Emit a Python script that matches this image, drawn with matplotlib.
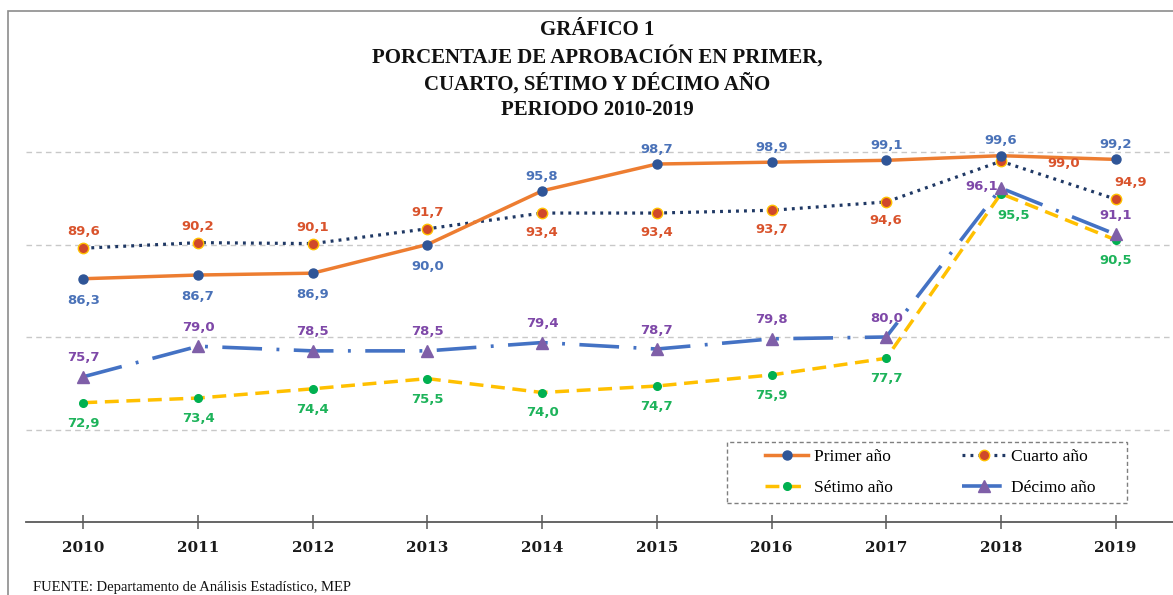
import matplotlib
matplotlib.use("Agg")
import matplotlib.pyplot as plt
from matplotlib.patches import Rectangle
from matplotlib.lines import Line2D

years = [2010, 2011, 2012, 2013, 2014, 2015, 2016, 2017, 2018, 2019]
primer = [86.3, 86.7, 86.9, 90.0, 95.8, 98.7, 98.9, 99.1, 99.6, 99.2]
cuarto = [89.6, 90.2, 90.1, 91.7, 93.4, 93.4, 93.7, 94.6, 99.0, 94.9]
setimo = [72.9, 73.4, 74.4, 75.5, 74.0, 74.7, 75.9, 77.7, 95.5, 90.5]
decimo = [75.7, 79.0, 78.5, 78.5, 79.4, 78.7, 79.8, 80.0, 96.1, 91.1]
series_names = ["Primer año", "Cuarto año", "Sétimo año", "Décimo año"]
title_lines = ["GRÁFICO 1", "PORCENTAJE DE APROBACIÓN EN PRIMER,",
               "CUARTO, SÉTIMO Y DÉCIMO AÑO", "PERIODO 2010-2019"]
source = "FUENTE: Departamento de Análisis Estadístico, MEP"

W, H = 1173, 595
fig = plt.figure(figsize=(W / 100, H / 100), dpi=100)
ax = fig.add_axes([26 / W, 1 - 522 / H, (1173 - 26) / W, (522 - 59.5) / H])
ax.set_xlim(2009.5, 2019.5)
ax.set_ylim(60, 110)

# frame around chart
fig.patches.append(Rectangle((8 / W, -0.1), 1.2, 1 - 11 / H + 0.1, transform=fig.transFigure,
                             fill=False, edgecolor="#8c8c8c", linewidth=1.2, zorder=0))

for g in [70, 80, 90, 100]:
    ax.axhline(g, color="#c8c8c8", lw=1, ls=(0, (4, 3)), zorder=0)

c_orange = "#ED7D31"
c_blue_m = "#2F5597"
c_navy = "#1F3864"
c_red = "#D0482A"
c_yellow = "#FFC000"
c_green = "#00B050"
c_blue = "#4472C4"
c_purple = "#7F5FA8"

st_setimo = dict(color=c_yellow, lw=2.5, ls=(0, (4, 2.2)), marker="o", ms=5.5,
                 mfc=c_green, mec=c_green)
st_decimo = dict(color=c_blue, lw=2.6, ls=(0, (11, 4, 0.8, 4)), marker="^", ms=8,
                 mfc=c_purple, mec=c_purple)
st_cuarto = dict(color=c_navy, lw=2.3, ls=(0, (0.9, 1.6)), marker="o", ms=7.5,
                 mfc=c_red, mec=c_yellow, mew=1.0)
st_primer = dict(color=c_orange, lw=2.5, marker="o", ms=6.5, mfc=c_blue_m, mec=c_blue_m)

ax.plot(years, setimo, zorder=3, **st_setimo)
ax.plot(years, decimo, zorder=4, **st_decimo)
ax.plot(years, cuarto, zorder=5, **st_cuarto)
ax.plot(years, primer, zorder=6, **st_primer)

lab_kw = dict(fontsize=9.5, fontweight="bold", family="DejaVu Sans", ha="center")
lc_primer = "#4A72B8"
lc_cuarto = "#D9532C"
lc_setimo = "#1DB35A"
lc_decimo = "#7E48A8"

def fmt(v):
    return f"{v:.1f}".replace(".", ",")

def lab(x, v, dx, dy, va, color):
    ax.annotate(fmt(v), (x, v), xytext=(dx, dy), textcoords="offset points",
                va=va, color=color, zorder=8, **lab_kw)

for i, (x, v) in enumerate(zip(years, primer)):
    if i < 4:
        lab(x, v, 0, -11, "top", lc_primer)
    else:
        lab(x, v, 0, 6, "bottom", lc_primer)

for i, (x, v) in enumerate(zip(years, cuarto)):
    if i < 4:
        lab(x, v, 0, 7, "bottom", lc_cuarto)
    elif i < 8:
        lab(x, v, 0, -9, "top", lc_cuarto)
    elif i == 8:
        lab(x, v, 45, -1.5, "center", lc_cuarto)
    else:
        lab(x, v, 11, 7, "bottom", lc_cuarto)

for i, (x, v) in enumerate(zip(years, setimo)):
    if i == 8:
        lab(x, v, 9, -11, "top", lc_setimo)
    else:
        lab(x, v, 0, -10, "top", lc_setimo)

for i, (x, v) in enumerate(zip(years, decimo)):
    if i < 8:
        lab(x, v, 0, 9, "bottom", lc_decimo)
    elif i == 8:
        lab(x, v, -14, 1, "center", lc_decimo)
    else:
        lab(x, v, 0, 9, "bottom", lc_decimo)

for s in ["top", "right", "left"]:
    ax.spines[s].set_visible(False)
ax.spines["bottom"].set_color("#595959")
ax.spines["bottom"].set_linewidth(1.3)
ax.set_yticks([])
ax.set_xticks(years)
ax.set_xticklabels([str(y) for y in years], fontsize=11, fontweight="bold",
                   family="DejaVu Serif", color="#1a1a1a")
ax.tick_params(axis="x", direction="inout", length=10, width=1.1, color="#595959", pad=9)

handles = [Line2D([], [], **st_primer), Line2D([], [], **st_setimo),
           Line2D([], [], **st_cuarto), Line2D([], [], **st_decimo)]
labels = [series_names[0], series_names[2], series_names[1], series_names[3]]
leg = fig.legend(handles, labels, ncol=2, loc="upper left",
                 bbox_to_anchor=(765 / W, 1 - 449 / H), frameon=False,
                 prop={"family": "Liberation Serif", "size": 12.5},
                 columnspacing=4.0, handlelength=2.5, handletextpad=0.3,
                 borderpad=0, borderaxespad=0, labelspacing=0.85)
fig.patches.append(Rectangle((727 / W, 1 - 503 / H), 400 / W, 61 / H, transform=fig.transFigure,
                             fill=False, edgecolor="#7f7f7f", linewidth=1.0,
                             linestyle=(0, (3, 2)), zorder=1))

ys = [30, 57, 84, 110]
for t, y in zip(title_lines, ys):
    fig.text(597 / W, 1 - y / H, t, ha="center", va="center", fontsize=15,
             fontweight="bold", family="Liberation Serif", color="#111111")

fig.text(33 / W, 1 - 587 / H, source, ha="left", va="center", fontsize=10.5,
         family="Liberation Serif", color="#111111")

fig.savefig("out.png", dpi=100)
